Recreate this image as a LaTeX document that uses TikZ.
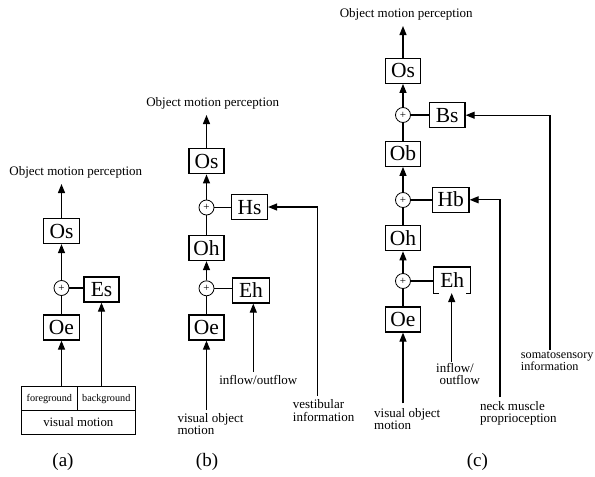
\documentclass[tikz,border=0pt]{standalone}
\usepackage{fontspec}
\setmainfont{Liberation Serif}
\usetikzlibrary{arrows.meta}
\begin{document}
\begin{tikzpicture}[x=1pt,y=-1pt,
  box/.style={draw,line width=1.2pt,minimum width=35pt,minimum height=25pt,inner sep=0pt,
    text height=14pt,text depth=0pt,font=\fontsize{21.5}{21.5}\selectfont},
  sum/.style={draw,circle,line width=0.8pt,minimum size=15pt,inner sep=0pt,font=\fontsize{11}{11}\selectfont},
  lbl/.style={inner sep=0pt,font=\fontsize{13}{12.5}\selectfont,align=left},
  cell/.style={draw,line width=1pt,inner sep=0pt},
  captxt/.style={inner sep=0pt,font=\fontsize{19}{19}\selectfont},
  ln/.style={line width=1.2pt},
  arr/.style={line width=1.2pt,-{Triangle[length=9pt,width=7pt]}},
]
\useasboundingbox (0,0) rectangle (595,477);

% ---------------- panel (a) ----------------
\node[lbl] (aT) at (75.8,172) {Object motion perception};
\coordinate (aTip) at (61.5,184);
\node[box,minimum width=36pt] (aOs) at (61.5,231) {Os};
\node[sum] (aP) at (61.5,288) {+};
\node[box] (aEs) at (101.5,289.5) {Es};
\node[box,minimum width=36pt] (aOe) at (61.5,327.5) {Oe};
\node[cell,minimum width=56pt,minimum height=24pt,font=\fontsize{10.2}{10}\selectfont] (aFg) at (49.3,398.7) {foreground};
\node[cell,minimum width=58pt,minimum height=24pt,font=\fontsize{10.2}{10}\selectfont] (aBg) at (106.3,398.7) {background};
\node[cell,minimum width=114pt,minimum height=23.3pt,font=\fontsize{12.8}{12}\selectfont] (aVm) at (78.3,422.35) {visual motion};
\draw[arr] (aOs) -- (aTip);
\draw[arr] (aP) -- (aOs);
\draw[ln] (aOe) -- (aP);
\draw[ln] (aP.east) -- (aP.east -| aEs.west);
\draw[arr] (aFg.north -| aOe.south) -- (aOe.south);
\draw[arr] (aBg.north -| aEs.south) -- (aEs.south);
\node[captxt] (aCap) at (63,462) {(a)};

% ---------------- panel (b) ----------------
\node[lbl] (bT) at (212.7,103) {Object motion perception};
\coordinate (bTip) at (206.5,115);
\node[box] (bOs) at (206.5,161.3) {Os};
\node[sum] (bP1) at (206.5,207.5) {+};
\node[box,minimum width=36pt] (bHs) at (249.5,207) {Hs};
\node[box] (bOh) at (206.5,248) {Oh};
\node[sum] (bP2) at (206.5,288.3) {+};
\node[box,minimum width=36.6pt] (bEh) at (251,290.5) {Eh};
\node[box] (bOe) at (206.5,327.5) {Oe};
\draw[arr] (bOs) -- (bTip);
\draw[arr] (bP1) -- (bOs);
\draw[ln] (bOh) -- (bP1);
\draw[arr] (bP2) -- (bOh);
\draw[ln] (bOe) -- (bP2);
\draw[ln] (bP1.east) -- (bP1.east -| bHs.west);
\draw[ln] (bP2.east) -- (bP2.east -| bEh.west);
\coordinate (bVisB) at (206.5,410);
\node[lbl,anchor=north west] (bVis) at (177.3,413) {visual object\\motion};
\draw[arr] (bVisB) -- (bOe.south);
\coordinate (bInB) at (253.3,372);
\node[lbl] (bIn) at (258.3,379.5) {inflow/outflow};
\draw[arr] (bInB) -- (bInB |- bEh.south);
\coordinate (bVeB) at (317.7,396);
\node[lbl,anchor=north west] (bVe) at (292.7,399.5) {vestibular\\information};
\draw[arr] (bVeB) -- (bVeB |- bHs.east) -- (bHs.east);
\node[captxt] (bCap) at (207,462) {(b)};

% ---------------- panel (c) ----------------
\node[lbl] (cT) at (406.2,14) {Object motion perception};
\coordinate (cTip) at (403,26);
\node[box] (cOs) at (403,70.8) {Os};
\node[sum] (cP1) at (403,115) {+};
\node[box,minimum width=35.7pt] (cBs) at (447.2,115.2) {Bs};
\node[box] (cOb) at (403,153.8) {Ob};
\node[sum] (cP2) at (403,200) {+};
\node[box,minimum width=36.7pt] (cHb) at (450.7,199.8) {Hb};
\node[box] (cOh) at (403,238.2) {Oh};
\node[sum] (cP3) at (403,281) {+};
\node[box,draw=none,minimum width=35.7pt] (cEh) at (452.2,280) {Eh};
\draw[ln] ([xshift=5pt]cEh.south west) -- (cEh.south west) -- (cEh.north west)
  -- (cEh.north east) -- (cEh.south east) -- ([xshift=-5pt]cEh.south east);
\node[box] (cOe) at (403,319.5) {Oe};
\draw[arr] (cOs) -- (cTip);
\draw[arr] (cP1) -- (cOs);
\draw[ln] (cOb) -- (cP1);
\draw[arr] (cP2) -- (cOb);
\draw[ln] (cOh) -- (cP2);
\draw[arr] (cP3) -- (cOh);
\draw[ln] (cOe) -- (cP3);
\draw[ln] (cP1.east) -- (cP1.east -| cBs.west);
\draw[ln] (cP2.east) -- (cP2.east -| cHb.west);
\draw[ln] (cP3.east) -- (cP3.east -| cEh.west);
\coordinate (cVisB) at (403,403.3);
\node[lbl,anchor=north west] (cVis) at (374,408) {visual object\\motion};
\draw[arr] (cVisB) -- (cOe.south);
\coordinate (cInB) at (451.7,361.7);
\node[lbl,anchor=north west] (cIn) at (436,363) {inflow/\\\hspace*{3.3pt}outflow};
\draw[arr] (cInB) -- (cInB |- cEh.south);
\coordinate (cNeB) at (500,397.3);
\node[lbl,anchor=north west] (cNe) at (480,401) {neck muscle\\proprioception};
\draw[arr] (cNeB) -- (cNeB |- cHb.east) -- (cHb.east);
\coordinate (cSoB) at (550,350);
\node[lbl,anchor=north west,font=\fontsize{12.2}{11}\selectfont] (cSo) at (520.7,351) {somatosensory\\information};
\draw[arr] (cSoB) -- (cSoB |- cBs.east) -- (cBs.east);
\node[captxt] (cCap) at (477.3,462) {(c)};
\end{tikzpicture}
\end{document}
